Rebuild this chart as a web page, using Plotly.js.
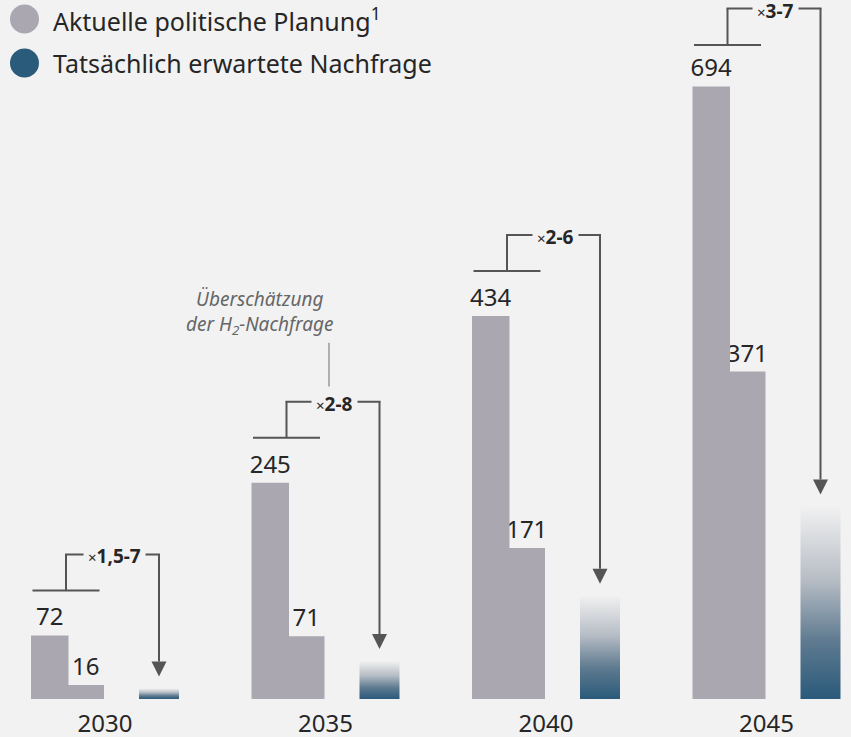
<!DOCTYPE html>
<html><head><meta charset="utf-8">
<script src="https://cdn.plot.ly/plotly-3.0.1.min.js"></script>
<style>html,body{margin:0;padding:0;background:#f2f2f2;}#chart{width:851px;height:737px;}</style>
</head><body><div id="chart"></div>
<script>
// ---- data ----
const years = ['2030', '2035', '2040', '2045'];
const plannedHigh = [72, 245, 434, 694];
const plannedLow = [16, 71, 171, 371];
const expectedDemand = [12, 43, 117, 218];
const factorLabels = ['1,5-7', '2-8', '2-6', '3-7'];
const legendLabels = ['Aktuelle politische Planung<sup>1</sup>', 'Tatsächlich erwartete Nachfrage'];
const noteText = 'Überschätzung<br>der H<sub>2</sub>-Nachfrage';

// ---- geometry / style ----
const W = 851, H = 737, M = {l: 0, r: 0, t: 0, b: 38};
const plotH = H - M.t - M.b, plotW = W - M.l - M.r;
const yMax = 792;
const vpp = yMax / plotH;            // value units per pixel
const groupPx = 220.5, firstCenterPx = 105;
const xpp = 1 / groupPx;             // x units per pixel
const xMin = -firstCenterPx / groupPx, xMax = (plotW - firstCenterPx) / groupPx;
const FONT = 'Noto Sans, Open Sans, sans-serif';
const grayBar = '#aaa7b1', blueDark = '#2b5b7b', lineCol = '#555555', textCol = '#262626', bg = '#f2f2f2';
const gradScale = [[0, '#2a5a7a'], [0.3, '#5e7a90'], [0.62, '#b7bdc5'], [1, '#f1f1f1']];

const idx = years.map((_, i) => i);
const traces = [];
traces.push({
  type: 'bar', x: idx, y: plannedLow, offset: -37.5 * xpp, width: 36.5 * xpp,
  marker: {color: grayBar, line: {width: 0}}, text: plannedLow.map(String), textposition: 'outside',
  constraintext: 'none', cliponaxis: false, textfont: {family: FONT, size: 24, color: textCol},
  hoverinfo: 'skip'
});
traces.push({
  type: 'bar', x: idx, y: plannedHigh, offset: -74 * xpp, width: 37.5 * xpp,
  marker: {color: grayBar, line: {width: 0}}, text: plannedHigh.map(String), textposition: 'outside',
  constraintext: 'none', cliponaxis: false, textfont: {family: FONT, size: 24, color: textCol},
  hoverinfo: 'skip'
});
const bOff = 34 * xpp, bW = 40 * xpp;
expectedDemand.forEach((v, i) => {
  const x0 = i + bOff, x1 = i + bOff + bW;
  traces.push({
    type: 'scatter', mode: 'none', x: [x0, x1, x1, x0, x0], y: [0, 0, v, v, 0],
    fill: 'toself', fillgradient: {type: 'vertical', colorscale: gradScale, start: 0, stop: v},
    hoverinfo: 'skip', showlegend: false
  });
});

const shapes = [], annotations = [];
const line = (x0, y0, x1, y1, col, w) => shapes.push({type: 'line', xref: 'x', yref: 'y', x0, y0, x1, y1, line: {color: col || lineCol, width: w || 2}});
plannedHigh.forEach((T, i) => {
  const riserX = i - 39 * xpp, descX = i + 54 * xpp;
  const hY = Math.min(T + 45 * vpp, yMax - 45 * vpp);
  const topY = Math.min(T + 81 * vpp, yMax - 8.5 * vpp);
  const tipY = expectedDemand[i] + 12 * vpp, headH = 15 * vpp, headW = 7.5 * xpp;
  line(riserX - 33.5 * xpp, hY, riserX + 33.5 * xpp, hY);
  line(riserX, hY, riserX, topY);
  line(riserX - 1 * xpp, topY, descX + 1 * xpp, topY);
  line(descX, topY, descX, tipY + headH);
  shapes.push({type: 'path', xref: 'x', yref: 'y',
    path: `M ${descX - headW} ${tipY + headH} L ${descX + headW} ${tipY + headH} L ${descX} ${tipY} Z`,
    fillcolor: lineCol, line: {width: 0}});
  annotations.push({xref: 'x', yref: 'y', x: (riserX + descX) / 2 + 1.5 * xpp, y: topY, yshift: -2,
    text: `<span style="font-size:15px">×</span><b>${factorLabels[i]}</b>`,
    showarrow: false, bgcolor: bg, borderpad: 4, xanchor: 'center', yanchor: 'middle',
    font: {family: FONT, size: 19, color: textCol}});
});
// note pointing at 2035 bracket
{
  const i = 1, topY = plannedHigh[i] + 81 * vpp, nx = i + 3.5 * xpp;
  line(nx, topY + 14 * vpp, nx, topY + 59 * vpp, '#9a9a9a', 1.5);
  annotations.push({xref: 'x', yref: 'y', x: i - 66 * xpp, y: topY + 89 * vpp,
    text: `<i>${noteText}</i>`, showarrow: false, xanchor: 'center', yanchor: 'middle', align: 'center',
    font: {family: FONT, size: 19, color: '#666666'}});
}
// legend
const legCols = [grayBar, blueDark], legY = [19, 63];
legendLabels.forEach((lab, k) => {
  const cx = 24.5, cy = legY[k], r = 14.5;
  shapes.push({type: 'circle', xref: 'paper', yref: 'paper',
    x0: (cx - r) / plotW, x1: (cx + r) / plotW, y0: (plotH - cy - r) / plotH, y1: (plotH - cy + r) / plotH,
    fillcolor: legCols[k], line: {width: 0}});
  annotations.push({xref: 'paper', yref: 'paper', x: 51 / plotW, y: (plotH - cy) / plotH,
    xanchor: 'left', yanchor: 'middle', showarrow: false, text: lab,
    font: {family: FONT, size: 25, color: textCol}});
});

const layout = {
  width: W, height: H, margin: M, paper_bgcolor: bg, plot_bgcolor: bg,
  showlegend: false, barmode: 'overlay',
  xaxis: {range: [xMin, xMax], tickvals: idx, ticktext: years, showgrid: false, zeroline: false,
    showline: false, ticks: '', ticklabelstandoff: 8, tickfont: {family: FONT, size: 24, color: textCol}, fixedrange: true},
  yaxis: {range: [0, yMax], visible: false, fixedrange: true},
  shapes, annotations, font: {family: FONT}
};
Plotly.newPlot('chart', traces, layout, {staticPlot: true, displayModeBar: false});
</script></body></html>
